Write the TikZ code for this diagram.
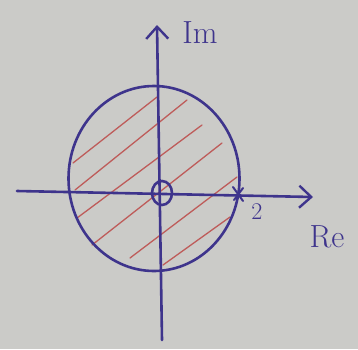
\documentclass[tikz,border=0pt]{standalone}
\usetikzlibrary{arrows.meta,calc}
\definecolor{paper}{RGB}{203,203,200}
\definecolor{ink}{RGB}{62,52,140}
\definecolor{hatch}{RGB}{190,92,90}
\tikzset{
  inkline/.style={draw=ink, line width=2.6pt, line cap=round, line join=round},
  hatchline/.style={draw=hatch, line width=1.3pt, line cap=round},
  axistip/.style={-{Straight Barb[length=12pt,width=22pt,line width=2.4pt]}},
  lbl/.style={text=ink, inner sep=0pt},
}
\begin{document}
\begin{tikzpicture}[x=1pt,y=-1pt]
\fill[paper] (0,0) rectangle (358,349);
\useasboundingbox (0,0) rectangle (358,349);
% hatch lines
\draw[hatchline] (73,163) -- (157,97);
\draw[hatchline] (75,190) -- (187,100);
\draw[hatchline] (77,218) -- (202,125);
\draw[hatchline] (92,245) -- (222,143);
\draw[hatchline] (130,258) -- (237,177);
\draw[hatchline] (163,265) -- (230,217);
% region boundary
\draw[inkline] (154,178.5) ellipse [x radius=85.5, y radius=92.5];
% axes
\coordinate (xs) at (17,191);
\coordinate (xe) at (313,197);
\coordinate (ys) at (162,340);
\coordinate (ye) at (157,25);
\draw[inkline, axistip] (xs) -- (xe);
\draw[inkline, axistip] (ys) -- (ye);
% origin circle
\draw[inkline] (162,193) ellipse [x radius=10, y radius=12];
% cross at 2
\coordinate (c2) at (238,194);
\draw[inkline, line width=2pt] ($(c2)+(-5,-7)$) -- ($(c2)+(5,7)$);
\draw[inkline, line width=2pt] ($(c2)+(5,-6)$) -- ($(c2)+(-4,6)$);
% labels
\node[lbl, font=\fontsize{32}{32}\selectfont] (im) at (200,33) {Im};
\node[lbl, font=\fontsize{32}{32}\selectfont] (re) at (327,237) {Re};
\node[lbl, font=\fontsize{24}{24}\selectfont] (two) at (257,212) {2};
\end{tikzpicture}
\end{document}
